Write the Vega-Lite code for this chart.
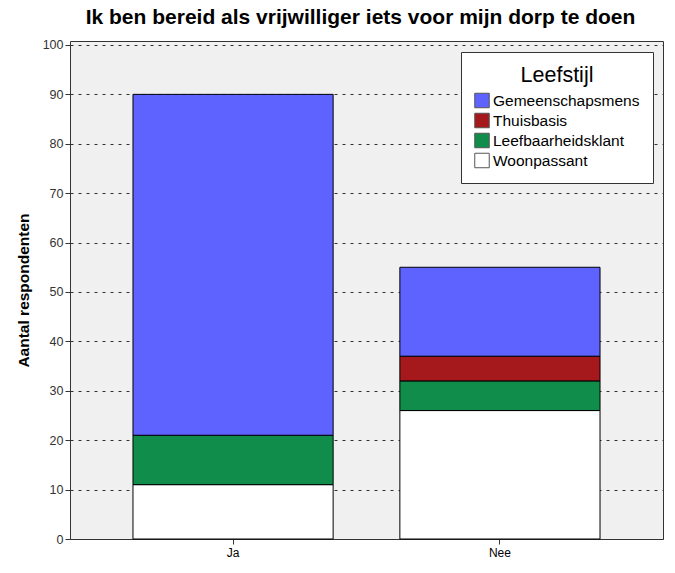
{
  "$schema": "https://vega.github.io/schema/vega-lite/v6.json",
  "width": 593,
  "height": 498,
  "autosize": {"type": "none"},
  "padding": {"left": 70, "top": 41, "right": 12, "bottom": 34},
  "background": "white",
  "title": {
    "text": "Ik ben bereid als vrijwilliger iets voor mijn dorp te doen",
    "font": "Liberation Sans",
    "fontSize": 21,
    "fontWeight": "bold",
    "color": "black",
    "anchor": "middle",
    "dx": -6,
    "offset": 11
  },
  "config": {
    "view": {"fill": "#F0F0F0", "stroke": "#333333", "strokeWidth": 1},
    "font": "Liberation Sans"
  },
  "data": {
    "values": [
      {"antwoord": "Ja", "leefstijl": "Woonpassant", "volgorde": 1, "aantal": 11},
      {"antwoord": "Ja", "leefstijl": "Leefbaarheidsklant", "volgorde": 2, "aantal": 10},
      {"antwoord": "Ja", "leefstijl": "Gemeenschapsmens", "volgorde": 4, "aantal": 69},
      {"antwoord": "Nee", "leefstijl": "Woonpassant", "volgorde": 1, "aantal": 26},
      {"antwoord": "Nee", "leefstijl": "Leefbaarheidsklant", "volgorde": 2, "aantal": 6},
      {"antwoord": "Nee", "leefstijl": "Thuisbasis", "volgorde": 3, "aantal": 5},
      {"antwoord": "Nee", "leefstijl": "Gemeenschapsmens", "volgorde": 4, "aantal": 18}
    ]
  },
  "mark": {"type": "bar", "stroke": "black", "strokeWidth": 1},
  "encoding": {
    "x": {
      "field": "antwoord",
      "type": "nominal",
      "sort": ["Ja", "Nee"],
      "scale": {"paddingInner": 0.25, "paddingOuter": 0.236},
      "axis": {
        "title": null,
        "labelAngle": 0,
        "labelFont": "Liberation Sans",
        "labelFontSize": 12,
        "labelColor": "black",
        "tickColor": "#333333",
        "tickSize": 5,
        "domain": false,
        "labelPadding": 3
      }
    },
    "y": {
      "field": "aantal",
      "type": "quantitative",
      "stack": "zero",
      "scale": {"domain": [0, 100.8], "nice": false, "zero": true},
      "axis": {
        "title": "Aantal respondenten",
        "titleFont": "Liberation Sans",
        "titleFontSize": 15.5,
        "titleFontWeight": "bold",
        "titleColor": "black",
        "titlePadding": 11,
        "values": [0, 10, 20, 30, 40, 50, 60, 70, 80, 90, 100],
        "labelFont": "Liberation Sans",
        "labelFontSize": 12.5,
        "labelColor": "#333333",
        "labelPadding": 2,
        "tickColor": "#333333",
        "tickSize": 5,
        "domain": false,
        "grid": true,
        "gridColor": "#333333",
        "gridDash": [3, 5],
        "gridWidth": 1
      }
    },
    "color": {
      "field": "leefstijl",
      "type": "nominal",
      "scale": {
        "domain": ["Gemeenschapsmens", "Thuisbasis", "Leefbaarheidsklant", "Woonpassant"],
        "range": ["#5E62FF", "#A5191C", "#118D4B", "#FFFFFF"]
      },
      "legend": {
        "title": "Leefstijl",
        "orient": "none",
        "legendX": 391,
        "legendY": 11,
        "titleFont": "Liberation Sans",
        "titleFontSize": 21.5,
        "titleFontWeight": "normal",
        "titleColor": "black",
        "titleAnchor": "middle",
        "titlePadding": 6,
        "labelFont": "Liberation Sans",
        "labelFontSize": 15.5,
        "labelColor": "black",
        "symbolType": "square",
        "symbolSize": 210,
        "symbolStrokeColor": "#555555",
        "symbolStrokeWidth": 1,
        "rowPadding": 0,
        "labelOffset": 3,
        "fillColor": "white",
        "strokeColor": "#333333",
        "padding": 13
      }
    },
    "order": {"field": "volgorde", "type": "quantitative", "sort": "ascending"}
  }
}
